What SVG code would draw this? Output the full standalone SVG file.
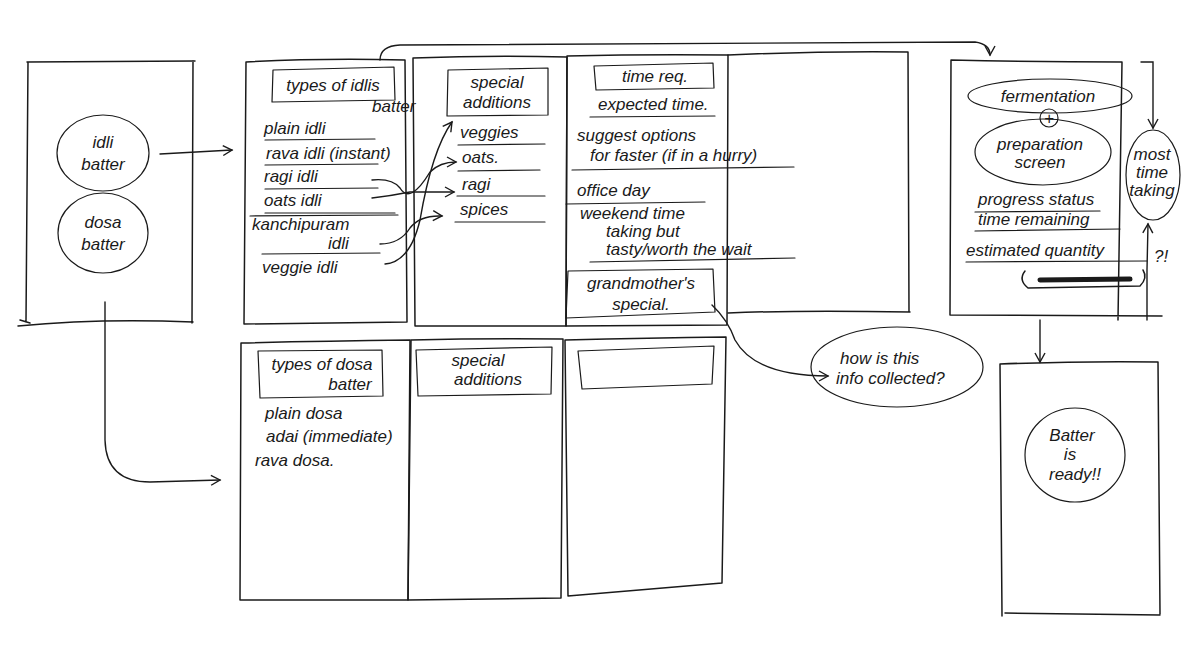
<svg xmlns="http://www.w3.org/2000/svg" width="1200" height="648" viewBox="0 0 1200 648">
<defs>
<marker id="ah" viewBox="0 0 12 12" refX="10" refY="6" markerWidth="12" markerHeight="12" markerUnits="userSpaceOnUse" orient="auto">
<path d="M1,1 L10,6 L1,11" fill="none" stroke="#1a1a1a" stroke-width="1.4"/>
</marker>
<style>
.s{fill:none;stroke:#1a1a1a;stroke-width:1.5;stroke-linecap:round;stroke-linejoin:round}
.t{stroke-width:1.2}
.c{fill:none;stroke:#1a1a1a;stroke-width:1.4;stroke-linecap:round}
text{font-family:"Liberation Sans","DejaVu Sans",sans-serif;font-style:italic;fill:#1a1a1a;font-size:17px}
.m{text-anchor:middle}
.sm{font-size:13px}
</style>
</defs>
<rect width="1200" height="648" fill="#fff"/>

<g id="start-screen">
<path class="s" d="M27,62 L195,61 M28,62 L26,322 M193,61 L192,323 M18,326 Q100,318 193,322 M20,320 L30,323"/>
<ellipse class="s t" cx="103" cy="153" rx="46" ry="38"/>
<text class="m" x="103" y="148" font-size="19">idli</text>
<text class="m" x="103" y="170" font-size="19">batter</text>
<ellipse class="s t" cx="103" cy="233" rx="45" ry="40"/>
<text class="m" x="103" y="228" font-size="19">dosa</text>
<text class="m" x="103" y="250" font-size="19">batter</text>
</g>

<g id="idli-types">
<path class="s" d="M246,62 Q320,58 405,60 M246,62 L244,324 M405,60 L407,322 M244,324 L407,322"/>
<path class="s t" d="M273,70 L394,67 L395,100 L272,102 Z"/>
<text class="m" x="333" y="91" font-size="18">types of idlis</text>
<text x="372" y="112" font-size="14">batter</text>
<text x="264" y="134">plain idli</text>
<path class="s t" d="M265,140 L375,139"/>
<text x="266" y="159">rava idli (instant)</text>
<path class="s t" d="M265,165 L378,164"/>
<text x="264" y="182">ragi idli</text>
<path class="s t" d="M265,189 L378,188"/>
<text x="264" y="206">oats idli</text>
<path class="s t" d="M265,213 L395,213"/>
<path class="s t" d="M250,216 L398,215"/>
<text x="252" y="230" font-size="16">kanchipuram</text>
<text x="328" y="249" font-size="16">idli</text>
<path class="s t" d="M262,254 L380,253"/>
<text x="262" y="273">veggie idli</text>
</g>

<g id="idli-additions">
<path class="s" d="M413,58 Q490,55 567,57 M413,58 L415,326 M567,57 L566,326 M415,326 L566,326"/>
<path class="s t" d="M448,70 L548,68 L548,115 L447,116 Z"/>
<text class="m" x="497" y="88">special</text>
<text class="m" x="497" y="108">additions</text>
<text x="460" y="138">veggies</text>
<path class="s t" d="M458,145 L545,144"/>
<text x="462" y="163">oats.</text>
<path class="s t" d="M458,171 L540,170"/>
<text x="462" y="190">ragi</text>
<path class="s t" d="M457,196 L545,196"/>
<text x="460" y="215">spices</text>
<path class="s t" d="M455,222 L545,222"/>
</g>

<g id="idli-time">
<path class="s" d="M567,56 Q650,54 728,55 M567,56 L566,326 M728,55 L727,325 M566,326 L727,325"/>
<path class="s t" d="M594,66 L713,63 L714,88 L596,90 Z"/>
<text class="m" x="655" y="82">time req.</text>
<text x="598" y="110">expected time.</text>
<path class="s t" d="M590,117 L715,116"/>
<text x="577" y="141">suggest options</text>
<text x="590" y="161" font-size="16">for faster (if in a hurry)</text>
<path class="s t" d="M572,170 L794,167"/>
<text x="577" y="196">office day</text>
<path class="s t" d="M566,204 L705,202"/>
<text x="580" y="219" font-size="15">weekend time</text>
<text x="606" y="237" font-size="15">taking but</text>
<text x="606" y="255" font-size="15">tasty/worth the wait</text>
<path class="s t" d="M590,262 L795,258"/>
<path class="s t" d="M568,271 L713,269 L715,312 L566,318 Z"/>
<text class="m" x="641" y="289" font-size="16">grandmother's</text>
<text class="m" x="641" y="310" font-size="16">special.</text>
</g>

<g id="idli-empty">
<path class="s" d="M728,55 Q820,51 908,52 M908,52 L909,312 M728,313 Q800,310 910,312"/>
</g>

<g id="fermentation">
<path class="s" d="M951,60 Q1040,62 1122,62 M951,60 L950,315 M1122,62 L1118,320 M950,315 L1162,316"/>
<ellipse class="s t" cx="1050" cy="96" rx="82" ry="17"/>
<text class="m" x="1048" y="102">fermentation</text>
<circle class="s t" cx="1049" cy="118" r="9"/>
<text class="m" x="1049" y="124" font-style="normal">+</text>
<ellipse class="s t" cx="1043" cy="152" rx="68" ry="33"/>
<text class="m" x="1040" y="150">preparation</text>
<text class="m" x="1040" y="168">screen</text>
<text x="978" y="205">progress status</text>
<path class="s t" d="M975,212 L1100,211"/>
<text x="978" y="225">time remaining</text>
<path class="s t" d="M975,231 L1120,229"/>
<text x="966" y="256">estimated quantity</text>
<path class="s t" d="M966,262 L1147,261"/>
<path class="s" d="M1025,271 Q1018,280 1028,288 L1140,286 Q1148,278 1143,270" />
<path fill="none" stroke="#1a1a1a" stroke-width="5" stroke-linecap="round" d="M1040,280 L1130,279"/>
<text x="1154" y="262" font-size="19">?!</text>
</g>

<g id="most-time">
<ellipse class="s t" cx="1153" cy="175" rx="27" ry="45"/>
<text class="m" x="1152" y="160" font-size="13">most</text>
<text class="m" x="1152" y="178" font-size="13">time</text>
<text class="m" x="1152" y="196" font-size="13">taking</text>
</g>

<g id="dosa-types">
<path class="s" d="M241,343 Q320,341 410,340 M241,343 L240,600 M410,340 L408,600 M240,600 L408,600"/>
<path class="s t" d="M258,351 L382,350 L383,396 L260,398 Z"/>
<text class="m" x="322" y="370">types of dosa</text>
<text class="m" x="350" y="390">batter</text>
<text x="265" y="419">plain dosa</text>
<text x="266" y="442">adai (immediate)</text>
<text x="255" y="466">rava dosa.</text>
</g>

<g id="dosa-additions">
<path class="s" d="M411,340 Q490,338 563,339 M411,340 L408,600 M563,339 L561,598 M408,600 L561,598"/>
<path class="s t" d="M416,350 L552,347 L551,394 L418,396 Z"/>
<text class="m" x="478" y="366">special</text>
<text class="m" x="488" y="385">additions</text>
</g>

<g id="dosa-empty">
<path class="s" d="M565,340 Q650,338 726,337 M565,340 L568,596 M726,337 L722,583 M568,596 L722,583"/>
<path class="s t" d="M578,351 L714,346 L712,384 L582,389 Z"/>
</g>

<g id="info-note">
<ellipse class="s t" cx="897" cy="367" rx="86" ry="40"/>
<text x="840" y="364">how is this</text>
<text x="836" y="384">info collected?</text>
</g>

<g id="batter-ready">
<path class="s" d="M1000,364 Q1080,361 1158,362 M1000,364 L1002,616 M1158,362 L1160,614 M1005,613 L1160,615"/>
<ellipse class="s t" cx="1075" cy="455" rx="50" ry="47"/>
<text class="m" x="1072" y="441">Batter</text>
<text class="m" x="1070" y="460">is</text>
<text class="m" x="1075" y="480">ready!!</text>
</g>

<g id="connectors">
<path class="c" d="M160,154 L232,150" marker-end="url(#ah)"/>
<path class="c" d="M105,302 L105,440 Q106,482 150,482 L220,480" marker-end="url(#ah)"/>
<path class="c" d="M380,60 Q380,46 400,45 L975,42 Q990,44 990,55" marker-end="url(#ah)"/>
<path class="c" d="M372,180 Q392,178 400,188 Q410,205 430,172 Q440,162 456,162" marker-end="url(#ah)"/>
<path class="c" d="M372,198 Q390,196 410,192 L454,192" marker-end="url(#ah)"/>
<path class="c" d="M380,244 Q400,244 410,228 Q420,215 442,216" marker-end="url(#ah)"/>
<path class="c" d="M385,264 Q410,262 420,220 Q432,150 452,122" marker-end="url(#ah)"/>
<path class="c" d="M712,305 Q728,320 735,340 Q755,376 828,376" marker-end="url(#ah)"/>
<path class="c" d="M1141,62 L1153,62 L1153,128" marker-end="url(#ah)"/>
<path class="c" d="M1147,320 L1147,270 L1148,224" marker-end="url(#ah)"/>
<path class="c" d="M1040,320 L1040,362" marker-end="url(#ah)"/>
</g>
</svg>
